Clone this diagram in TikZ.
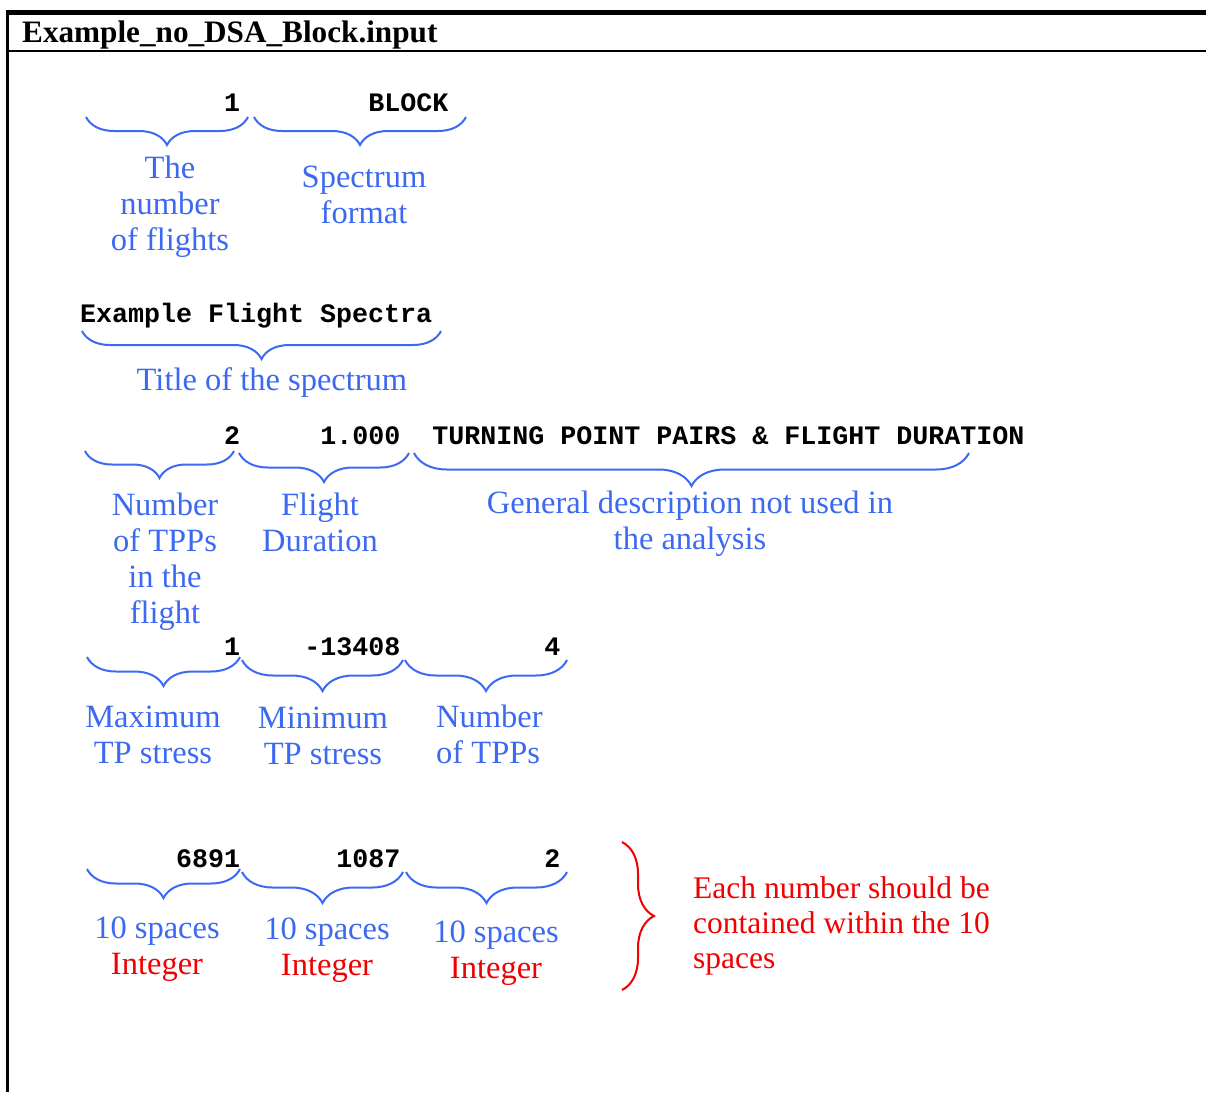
\documentclass[tikz,border=0pt]{standalone}
\usepackage{fontspec}
\setmainfont{Liberation Serif}
\setmonofont{Liberation Mono}
\usetikzlibrary{decorations.pathreplacing}
\definecolor{noteblue}{RGB}{60,105,242}
\definecolor{notered}{RGB}{240,0,0}
% stacked lines, baseline on the first line
\newcommand\linestack[2]{\begin{tabular}[t]{@{}#1@{}}#2\end{tabular}}
\begin{document}
\frenchspacing
\begin{tikzpicture}[x=1pt,y=-1pt,
  frame/.style={line width=#1, line cap=butt},
  code/.style={anchor=base west, inner sep=0pt,
    font=\ttfamily\bfseries\fontsize{26.67}{30}\selectfont},
  note/.style={anchor=base, inner sep=0pt, text=noteblue,
    font=\fontsize{32.5}{36}\selectfont},
  warn/.style={anchor=base west, inner sep=0pt, text=notered,
    font=\fontsize{31.5}{35}\selectfont},
  field/.style={draw=noteblue, line width=2pt, decorate,
    decoration={brace, mirror, amplitude=#1}},
  field/.default=29pt,
  group/.style={draw=notered, line width=2pt, decorate,
    decoration={brace, amplitude=32pt}}]

\useasboundingbox (0,0) rectangle (1206,1092);

% file frame and header
\coordinate (tl) at (6,12.5);
\coordinate (tr) at (1206,12.5);
\coordinate (hl) at (6,51);
\coordinate (hr) at (1206,51);
\coordinate (lt) at (7.5,10);
\coordinate (lb) at (7.5,1092);
\draw[frame=5pt] (tl) -- (tr);
\draw[frame=2.5pt] (hl) -- (hr);
\draw[frame=3pt] (lt) -- (lb);
\node[anchor=base west, inner sep=0pt, font=\bfseries\fontsize{31.2}{34}\selectfont]
  (title) at (22,42) {Example\_no\_DSA\_Block.input};

% file lines (16pt character grid starting at x=80)
\node[code] (row1) at (80,111) {~~~~~~~~~1~~~~~~~~BLOCK};
\node[code] (row2) at (80,322.7) {Example~Flight~Spectra};
\node[code] (row3) at (80,444) {~~~~~~~~~2~~~~~1.000~~TURNING~POINT~PAIRS~\&~FLIGHT~DURATION};
\node[code] (row4) at (80,655) {~~~~~~~~~1~~~~-13408~~~~~~~~~4};
\node[code] (row5) at (80,867) {~~~~~~6891~~~~~~1087~~~~~~~~~2};

% field braces
\coordinate (a1) at (86,117);   \coordinate (a2) at (248,117);
\coordinate (b1) at (254,117);  \coordinate (b2) at (466,117);
\coordinate (c1) at (82,331);   \coordinate (c2) at (441,331);
\coordinate (d1) at (85,451);   \coordinate (d2) at (234,451);
\coordinate (e1) at (239,453);  \coordinate (e2) at (409,453);
\coordinate (f1) at (414,453);  \coordinate (f2) at (969,453);
\coordinate (g1) at (87,657);   \coordinate (g2) at (240,657);
\coordinate (h1) at (242,660);  \coordinate (h2) at (403,660);
\coordinate (i1) at (405,660);  \coordinate (i2) at (567,660);
\coordinate (j1) at (87,869);   \coordinate (j2) at (240,869);
\coordinate (k1) at (242,872);  \coordinate (k2) at (403,872);
\coordinate (m1) at (406,872);  \coordinate (m2) at (567,872);

\draw[field=28pt] (a1) -- (a2);
\draw[field=28pt] (b1) -- (b2);
\draw[field=28pt] (c1) -- (c2);
\draw[field=27pt] (d1) -- (d2);
\draw[field] (e1) -- (e2);
\draw[field=33pt] (f1) -- (f2);
\draw[field] (g1) -- (g2);
\draw[field=31pt] (h1) -- (h2);
\draw[field=31pt] (i1) -- (i2);
\draw[field] (j1) -- (j2);
\draw[field=31pt] (k1) -- (k2);
\draw[field=31pt] (m1) -- (m2);

% field descriptions
\node[note] (nflights) at (170,178) {\linestack{c}{The\\number\\of flights}};
\node[note] (format) at (364,187) {\linestack{c}{Spectrum\\format}};
\node[note] (title2) at (272,390) {Title of the spectrum};
\node[note] (ntpp) at (165,515) {\linestack{c}{Number\\of TPPs\\in the\\flight}};
\node[note] (dur) at (320,515) {\linestack{c}{Flight\\Duration}};
\node[note] (descr) at (690,513) {\linestack{c}{General description not used in\\the analysis}};
\node[note] (maxs) at (153,727) {\linestack{c}{Maximum\\TP stress}};
\node[note] (mins) at (323,728) {\linestack{c}{Minimum\\TP stress}};
\node[note, anchor=base west] (count) at (436,727) {\linestack{l}{Number\\of TPPs}};
\node[note] (sp1) at (157,938) {\linestack{c}{10 spaces\\\textcolor{notered}{Integer}}};
\node[note] (sp2) at (327,939) {\linestack{c}{10 spaces\\\textcolor{notered}{Integer}}};
\node[note] (sp3) at (496,942) {\linestack{c}{10 spaces\\\textcolor{notered}{Integer}}};

% rule for the integer fields
\coordinate (n1) at (622,842);
\coordinate (n2) at (622,990);
\draw[group] (n1) -- (n2);
\node[warn] (rule) at (693,898) {\linestack{l}{Each number should be\\contained within the 10\\spaces}};
\end{tikzpicture}
\end{document}
